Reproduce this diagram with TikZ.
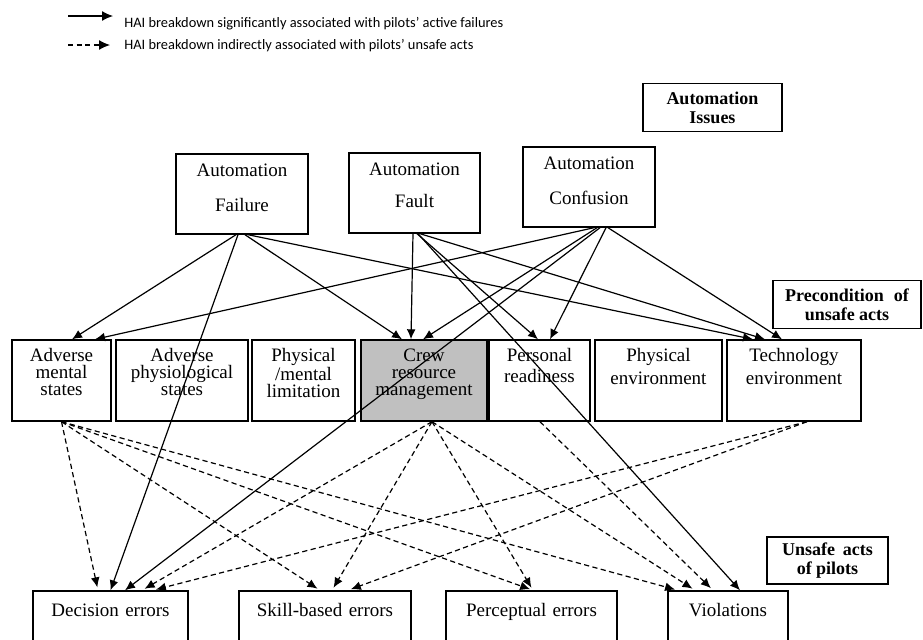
\documentclass[tikz,border=0pt]{standalone}
\usepackage{fontspec}
\setmainfont{Liberation Serif}
\newfontfamily\legendfont{Carlito}
\usetikzlibrary{arrows.meta, positioning, calc}
\definecolor{crewgray}{RGB}{192,192,192}
\tikzset{>={Latex[length=5pt,width=4.4pt]},
  sig/.style={->, line width=0.6pt},
  ind/.style={sig, dash pattern=on 2.6pt off 1.7pt, shorten >=1.5pt},
  factor/.style={draw, line width=0.7pt, align=center, inner xsep=0pt, inner ysep=0pt},
  topbox/.style={factor, text width=#1, text height=11.4pt, text depth=28.6pt, font=\fontsize{9.5}{17.5}\selectfont},
  midbox/.style={factor, text width=#1, text height=10.6pt, text depth=29.9pt, font=\fontsize{9.5}{8.6}\selectfont},
  botbox/.style={factor, text width=#1, text height=12.8pt, text depth=17.2pt, font=\fontsize{9.5}{11}\selectfont},
  lblbox/.style={factor, minimum width=#1, minimum height=24pt, font=\bfseries\fontsize{9}{9.5}\selectfont},
  legend/.style={anchor=base west, inner sep=0pt, font=\legendfont\fontsize{7.2}{8}\selectfont}
}

\begin{document}
\begin{tikzpicture}[x=0.5pt, y=-0.5pt]
  \useasboundingbox (0,0) rectangle (923,639);
  \clip (0,0) rectangle (923,639);

  % legend
  \coordinate (sigfrom) at (68,16);
  \coordinate (sigto) at (113,16);
  \coordinate (indfrom) at (68,45);
  \coordinate (indto) at (110,45);
  \draw [sig, -{Latex[length=5.5pt,width=5pt]}] (sigfrom) -- (sigto);
  \draw [ind, shorten >=0pt, -{Latex[length=5.5pt,width=5pt]}] (indfrom) -- (indto);
  \node [legend] (sigtext) at (124,27.6) {HAI breakdown significantly associated with pilots’ active failures};
  \node [legend] (indtext) at (124,49.6) {HAI breakdown indirectly associated with pilots’ unsafe acts};

  % automation issues
  \node [lblbox=69.5pt] (issues) at (712.5,107.5) {Automation\\Issues};
  \node [topbox=66pt] (fail) at (242,194) {Automation\\Failure};
  \node [topbox=65.5pt] (fault) at (414.5,193) {Automation\\[-1.5pt]Fault};
  \node [topbox=66pt] (conf) at (589,187) {Automation\\Confusion};

  % preconditions
  \node [lblbox=74pt] (precond) at (847,304.5) {Precondition\hspace{5pt}of\\unsafe acts};
  \node [midbox=49.5pt] (mental) at (61.5,380.5) {Adverse\\mental\\states};
  \node [midbox=66pt] (physio) at (182,380.5) {Adverse\\physiological\\states};
  \node [midbox=51.5pt] (limit) at (303.5,380.5) {Physical\\/mental\\limitation};
  \node [midbox=63pt, fill=crewgray] (crew) at (424,380.5) {Crew\\resource\\management};
  \node [midbox=50.5pt] (ready) at (539.5,380.5) {Personal\\[1.8pt]readiness};
  \node [midbox=63.5pt] (physenv) at (658.5,380.5) {Physical\\[3pt]environment};
  \node [midbox=67pt] (techenv) at (794,380.5) {Technology\\[3pt]environment};

  % unsafe acts
  \node [lblbox=60.5pt, minimum height=23.5pt] (unsafe) at (827.5,560.5) {Unsafe\hspace{4pt}acts\\of pilots};
  \node [botbox=77.5pt] (decision) at (110.5,621) {Decision errors};
  \node [botbox=86pt] (skill) at (325,621) {Skill-based errors};
  \node [botbox=85.5pt] (percept) at (531.5,621) {Perceptual errors};
  \node [botbox=60pt] (violate) at (728,621) {Violations};

  % significant links
  \draw [sig] ([xshift=-3pt]fail.south) -- ([xshift=5.25pt]mental.north);
  \draw [sig] ([xshift=-2pt]fail.south) -- (decision.north);
  \draw [sig] ([xshift=1.5pt]fail.south) -- ([xshift=-11pt]crew.north);
  \draw [sig] ([xshift=3pt]fail.south) -- ([xshift=-20.5pt]techenv.north);
  \draw [sig] ([xshift=-0.75pt]fault.south) -- ([xshift=-6.5pt]crew.north);
  \draw [sig] ([xshift=1.25pt]fault.south) -- ([xshift=-0.75pt]ready.north);
  \draw [sig] ([xshift=1.75pt]fault.south) -- ([xshift=6pt]violate.north);
  \draw [sig] ([xshift=2.75pt]fault.south) -- ([xshift=-14.5pt]techenv.north);
  \draw [sig] ([xshift=2.5pt]conf.south) -- ([xshift=16.75pt]mental.north);
  \draw [sig] ([xshift=4pt]conf.south) -- ([xshift=-0.5pt]crew.north);
  \draw [sig] ([xshift=5.5pt]conf.south) -- ([xshift=7.25pt]decision.north);
  \draw [sig] ([xshift=8.5pt]conf.south) -- ([xshift=5.25pt]ready.north);
  \draw [sig] ([xshift=9.5pt]conf.south) -- ([xshift=-6pt]techenv.north);

  % indirect links
  \draw [ind] (mental.south) -- ([xshift=-6.25pt]decision.north);
  \draw [ind] (mental.south) -- ([xshift=-2.5pt]skill.north);
  \draw [ind] (mental.south) -- ([xshift=0.75pt]percept.north);
  \draw [ind] (mental.south) -- ([xshift=-25pt]violate.north);
  \draw [ind] ([xshift=4pt]crew.south) -- ([xshift=15.75pt]decision.north);
  \draw [ind] ([xshift=4pt]crew.south) -- ([xshift=3.5pt]skill.north);
  \draw [ind] ([xshift=4pt]crew.south) -- ([xshift=0.75pt]percept.north);
  \draw [ind] ([xshift=4pt]crew.south) -- ([xshift=-16.5pt]violate.north);
  \draw [ind] ([xshift=0.25pt]ready.south) -- ([xshift=-7.5pt]violate.north);
  \draw [ind] ([xshift=6.5pt]techenv.south) -- ([xshift=21.25pt]decision.north);
  \draw [ind] ([xshift=6.5pt]techenv.south) -- ([xshift=11.5pt]skill.north);
\end{tikzpicture}
\end{document}
